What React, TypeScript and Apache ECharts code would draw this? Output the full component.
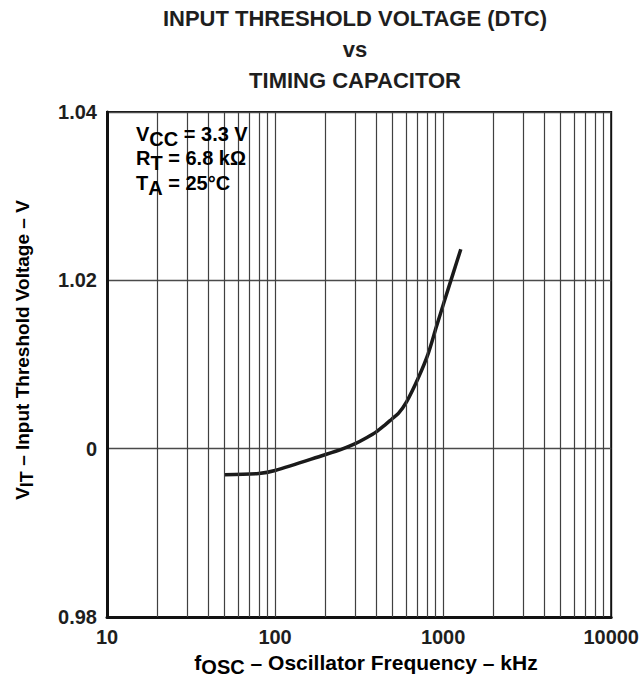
import React, { useEffect, useRef } from "react";
import * as echarts from "echarts";

// Data
const freqKHz = [50, 80, 100, 196, 250, 300, 350, 400, 450, 494, 542, 607, 711, 815, 912, 1023, 1146, 1274];
const vitVolts = [0.9969, 0.99705, 0.9974, 0.99925, 0.99995, 1.0006, 1.0013, 1.002, 1.0028, 1.0035, 1.0042, 1.0056, 1.0084, 1.0113, 1.0145, 1.0177, 1.0208, 1.0237];

const xGridValues = [20, 30, 40, 50, 60, 70, 80, 90, 100, 200, 300, 400, 500, 600, 700, 800, 900, 1000, 2000, 3000, 4000, 5000, 6000, 7000, 8000, 9000];
const yTicks = [0.98, 1.0, 1.02, 1.04];
const yTickLabels = ["0.98", "0", "1.02", "1.04"];
const xTicks = [10, 100, 1000, 10000];
const xTickLabels = ["10", "100", "1000", "10000"];

const titleLines = ["INPUT THRESHOLD VOLTAGE (DTC)", "vs", "TIMING CAPACITOR"];

const FONT = "'Liberation Sans', Arial, Helvetica, sans-serif";
const TXT = "#1e1e1e";

export default function App() {
  const ref = useRef<HTMLDivElement>(null);
  useEffect(() => {
    if (!ref.current) return;
    const chart = echarts.init(ref.current, null, { renderer: "svg" });
    const rich = {
      n: { fontFamily: FONT, fontWeight: "bold", fontSize: 20, color: TXT },
      s: { fontFamily: FONT, fontWeight: "bold", fontSize: 20, color: TXT, padding: [10, 0, 0, 0] },
    };
    const richX = {
      n: { fontFamily: FONT, fontWeight: "bold", fontSize: 21, color: TXT },
      s: { fontFamily: FONT, fontWeight: "bold", fontSize: 20, color: TXT, padding: [10, 0, 0, 0] },
    };
    const richY = {
      n: { fontFamily: FONT, fontWeight: "bold", fontSize: 19, color: TXT },
      s: { fontFamily: FONT, fontWeight: "bold", fontSize: 18, color: TXT, padding: [10, 0, 0, 0] },
    };
    chart.setOption({
      animation: false,
      backgroundColor: "#fff",
      title: {
        text: titleLines.join("\n"),
        left: 355,
        top: 3,
        padding: 0,
        textAlign: "center",
        textStyle: { fontFamily: FONT, fontWeight: "bold", fontSize: 22, lineHeight: 31, color: TXT },
      },
      grid: {
        left: 107,
        top: 112,
        right: 28,
        bottom: 72,
        show: true,
        borderColor: "#111",
        borderWidth: 2,
        backgroundColor: "transparent",
      },
      xAxis: {
        type: "log",
        logBase: 10,
        min: 10,
        max: 10000,
        axisLine: { show: true, onZero: false, lineStyle: { color: "#111", width: 3 } },
        axisTick: { show: false },
        splitLine: { show: false },
        axisLabel: {
          margin: 10,
          fontFamily: FONT,
          fontWeight: "bold",
          fontSize: 20,
          color: TXT,
          formatter: (v: number) => {
            const i = xTicks.findIndex((t) => Math.abs(t - v) < 1e-6);
            return i >= 0 ? xTickLabels[i] : "";
          },
        },
      },
      yAxis: {
        type: "value",
        min: 0.98,
        max: 1.04,
        interval: 0.02,
        axisLine: { show: true, lineStyle: { color: "#111", width: 3 } },
        axisTick: { show: false },
        splitLine: { show: true, lineStyle: { color: "#4a4a4a", width: 1.4 } },
        axisLabel: {
          margin: 10,
          fontFamily: FONT,
          fontWeight: "bold",
          fontSize: 20,
          color: TXT,
          formatter: (v: number) => {
            const i = yTicks.findIndex((t) => Math.abs(t - v) < 1e-6);
            return i >= 0 ? yTickLabels[i] : "";
          },
        },
      },
      series: [
        {
          type: "line",
          data: freqKHz.map((f, i) => [f, vitVolts[i]]),
          smooth: 0.3,
          showSymbol: false,
          symbol: "none",
          lineStyle: { color: "#1a1a1a", width: 3.5 },
          z: 2,
          markLine: {
            silent: true,
            symbol: ["none", "none"],
            label: { show: false },
            lineStyle: { color: "#404040", width: 1.2, type: "solid" },
            data: xGridValues.map((v) => ({ xAxis: v })),
          },
        },
      ],
      graphic: [
        { type: "rect", z: 5, shape: { x: 109, y: 118, width: 180, height: 90 }, style: { fill: "#fff" } },
        {
          type: "text", z: 6, x: 136, y: 134,
          style: { text: "{n|V}{s|CC}{n| = 3.3 V}", rich, verticalAlign: "middle", align: "left" },
        },
        {
          type: "text", z: 6, x: 136, y: 158,
          style: { text: "{n|R}{s|T}{n| = 6.8 kΩ}", rich, verticalAlign: "middle", align: "left" },
        },
        {
          type: "text", z: 6, x: 136, y: 183,
          style: { text: "{n|T}{s|A}{n| = 25°C}", rich, verticalAlign: "middle", align: "left" },
        },
        {
          type: "text", z: 6, x: 366, y: 662,
          style: { text: "{n|f}{s|OSC}{n| – Oscillator Frequency – kHz}", rich: richX, verticalAlign: "middle", align: "center" },
        },
        {
          type: "text", z: 6, x: 22, y: 350, rotation: Math.PI / 2,
          style: { text: "{n|V}{s|IT}{n| – Input Threshold Voltage – V}", rich: richY, verticalAlign: "middle", align: "center" },
        },
      ],
    });
    return () => chart.dispose();
  }, []);
  return <div ref={ref} style={{ position: "absolute", left: 0, top: 0, width: 642, height: 689 }} />;
}
